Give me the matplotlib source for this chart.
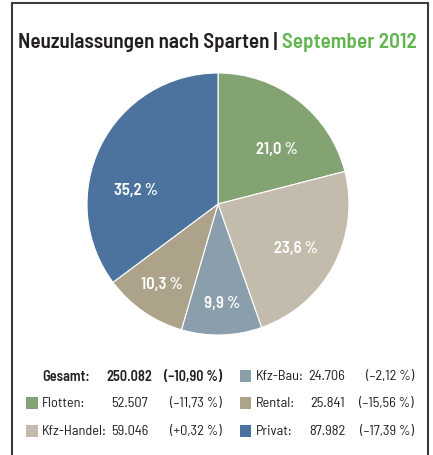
import numpy as np
import matplotlib
matplotlib.use("Agg")
import matplotlib.pyplot as plt
from matplotlib.patches import Rectangle
from matplotlib import font_manager as fm

# ---- data ----
categories = ["Flotten", "Kfz-Handel", "Kfz-Bau", "Rental", "Privat"]
shares = [21.0, 23.6, 9.9, 10.3, 35.2]
counts = [52507, 59046, 24706, 25841, 87982]
changes = [-11.73, 0.32, -2.12, -15.56, -17.39]
total_count = 250082
total_change = -10.90
title_main = "Neuzulassungen nach Sparten | "
title_date = "September 2012"

# ---- style ----
colors = ["#84A373", "#C3BCAD", "#8A9EAB", "#ADA38B", "#4B739E"]
label_r = [0.62, 0.68, 0.75, 0.74, 0.64]
label_shift = [-9.0, -0.8, 0.7, -0.6, 16.4]
names = {f.name for f in fm.fontManager.ttflist}
FONT = "Barlow Semi Condensed" if "Barlow Semi Condensed" in names else "Roboto"
BOLD = "semibold"
TXT = "#231F20"
W, H = 433, 456

plt.rcParams["font.family"] = [FONT, "DejaVu Sans"]
fig = plt.figure(figsize=(W / 100, H / 100), dpi=100)
fig.canvas.draw()
rend = fig.canvas.get_renderer()

def fx(x):
    return x / W

def fy(y):
    return 1 - y / H

def de_num(n):
    return f"{n:,}".replace(",", ".")

def de_pct(v):
    sign = "+" if v >= 0 else "\u2013"
    return f"({sign}{abs(v):.2f} %)".replace(".", ",")

def fit_size(s, target_px, weight="normal"):
    t = fig.text(0, 0, s, fontsize=10, fontweight=weight)
    w = t.get_window_extent(rend).width
    t.remove()
    return 10 * target_px / w

# frame
fig.add_artist(Rectangle((fx(11.5), fy(470)), fx(427.5) - fx(11.5), fy(3.5) - fy(470),
                         transform=fig.transFigure, fill=False, edgecolor="#3a3a3a",
                         linewidth=1.5))

# pie
cx, cy, r = 218, 205, 131
ax = fig.add_axes([fx(cx - r), fy(cy + r), 2 * r / W, 2 * r / H])
wedges, _ = ax.pie(shares, colors=colors, startangle=90, counterclock=False,
                   wedgeprops=dict(edgecolor="white", linewidth=0.8))
ax.set_xlim(-1, 1)
ax.set_ylim(-1, 1)
ax.axis("off")
pfs = fit_size("21,0 %", 42, BOLD)
for w, s, lr, sh in zip(wedges, shares, label_r, label_shift):
    mid = np.deg2rad((w.theta1 + w.theta2) / 2 + sh)
    ax.text(lr * np.cos(mid), lr * np.sin(mid), f"{s:.1f} %".replace(".", ","),
            ha="center", va="center", color="white", fontsize=pfs, fontweight=BOLD)

# title
tfs = fit_size(title_main + title_date, 399, BOLD)
t1 = fig.text(0, fy(42), title_main, fontsize=tfs, fontweight=BOLD, color=TXT,
              ha="left", va="center")
t2 = fig.text(0, fy(42), title_date, fontsize=tfs, fontweight=BOLD, color="#62B450",
              ha="left", va="center")
w1 = t1.get_window_extent(rend).width
w2 = t2.get_window_extent(rend).width
x0 = 217.5 - (w1 + w2) / 2
t1.set_x(fx(x0))
t2.set_x(fx(x0 + w1))

# legend
fs = fit_size("Kfz-Handel:", 65)
rows_y = [377, 404, 432]
fig.text(fx(42), fy(rows_y[0]), "Gesamt:", fontsize=fs, fontweight=BOLD, color=TXT,
         ha="left", va="center")
fig.text(fx(152), fy(rows_y[0]), de_num(total_count), fontsize=fs, fontweight=BOLD,
         color=TXT, ha="right", va="center")
fig.text(fx(222), fy(rows_y[0]), de_pct(total_change), fontsize=fs, fontweight=BOLD,
         color=TXT, ha="right", va="center")

# slot layout: (column, row)
slots = [(0, 1), (0, 2), (1, 0), (1, 1), (1, 2)]
col_sq = [26, 240]
col_name = [42, 256]
col_num = [148, 345]
col_pct = [222, 414]
for cat, cnt, chg, col, (c, rr) in zip(categories, counts, changes, colors, slots):
    y = rows_y[rr]
    fig.add_artist(Rectangle((fx(col_sq[c]), fy(y + 6)), 11.5 / W, 12 / H,
                             transform=fig.transFigure, facecolor=col, edgecolor="none"))
    fig.text(fx(col_name[c]), fy(y), cat + ":", fontsize=fs, color=TXT, ha="left",
             va="center")
    fig.text(fx(col_num[c]), fy(y), de_num(cnt), fontsize=fs, color=TXT, ha="right",
             va="center")
    fig.text(fx(col_pct[c]), fy(y), de_pct(chg), fontsize=fs, color=TXT, ha="right",
             va="center")

fig.savefig("out.png", dpi=100, facecolor="white")
